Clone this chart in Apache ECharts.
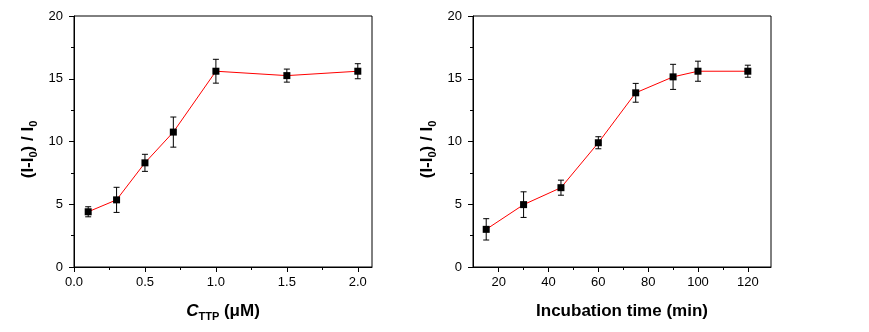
<!DOCTYPE html>
<html><head><meta charset="utf-8">
<script src="https://cdn.jsdelivr.net/npm/echarts@6/dist/echarts.min.js"></script>
<style>html,body{margin:0;padding:0;background:#fff}#c{width:869px;height:332px}</style>
</head><body><div id="c"></div>
<script>
// Left panel: concentration of TTP (µM)
const concX = [0.1, 0.3, 0.5, 0.7, 1.0, 1.5, 2.0];
const concY = [4.4, 5.35, 8.3, 10.75, 15.6, 15.25, 15.6];
const concErr = [0.4, 1.0, 0.68, 1.2, 0.95, 0.52, 0.6];
const concTicks = [0, 0.5, 1.0, 1.5, 2.0];
const concMinorTicks = [0.25, 0.75, 1.25, 1.75];
// Right panel: incubation time (min)
const timeX = [15, 30, 45, 60, 75, 90, 100, 120];
const timeY = [3.0, 4.97, 6.32, 9.9, 13.88, 15.15, 15.6, 15.6];
const timeErr = [0.85, 1.02, 0.6, 0.48, 0.75, 1.0, 0.8, 0.48];
const timeTicks = [20, 40, 60, 80, 100, 120];
const timeMinorTicks = [30, 50, 70, 90, 110];
const yTicksMin = 0, yTicksMax = 20, yTickStep = 5;

const FONT = '"Liberation Sans", Arial, sans-serif';
const chart = echarts.init(document.getElementById('c'), null, {renderer: 'canvas'});

const titleRich = {
  m: {fontSize: 17, fontWeight: 'bold', fontFamily: FONT, color: '#000', lineHeight: 22},
  it: {fontSize: 17, fontWeight: 'bold', fontStyle: 'italic', fontFamily: FONT, color: '#000', lineHeight: 22},
  s: {fontSize: 11, fontWeight: 'bold', fontFamily: FONT, color: '#000', lineHeight: 11, verticalAlign: 'bottom'}
};

function yAxisDef(gi) {
  return {
    type: 'value', gridIndex: gi, min: yTicksMin, max: yTicksMax, interval: yTickStep,
    name: '{m|(I-I}{s|0}{m|) / I}{s|0}', nameLocation: 'middle', nameGap: 35,
    nameTextStyle: {rich: titleRich, padding: [0, 16, 0, 0]},
    axisLine: {show: true, lineStyle: {color: '#000', width: 1}},
    axisTick: {show: true, inside: false, length: 5, lineStyle: {color: '#000', width: 1}},
    minorTick: {show: true, splitNumber: 2, length: 3, lineStyle: {color: '#000', width: 1}},
    axisLabel: {color: '#000', fontSize: 13, fontFamily: FONT, margin: 11},
    splitLine: {show: false}
  };
}

function xMain(gi, min, max, ticks, fmt, name, gap) {
  return {
    type: 'value', gridIndex: gi, min: min, max: max, position: 'bottom',
    name: name, nameLocation: 'middle', nameGap: gap,
    nameTextStyle: {rich: titleRich},
    axisLine: {show: true, onZero: false, lineStyle: {color: '#000', width: 1}},
    axisTick: {show: true, length: 5, customValues: ticks, lineStyle: {color: '#000', width: 1}},
    axisLabel: {color: '#000', fontSize: 13, fontFamily: FONT, margin: 9, customValues: ticks, formatter: fmt},
    splitLine: {show: false}
  };
}
function xMinor(gi, min, max, ticks) {
  return {
    type: 'value', gridIndex: gi, min: min, max: max, position: 'bottom',
    axisLine: {show: false, onZero: false},
    axisTick: {show: true, length: 3, customValues: ticks, lineStyle: {color: '#000', width: 1}},
    axisLabel: {show: false},
    splitLine: {show: false}
  };
}

function errSeries(xi, yi, xs, ys, es) {
  return {
    type: 'custom', xAxisIndex: xi, yAxisIndex: yi, z: 3,
    data: xs.map((x, i) => [x, ys[i] - es[i], ys[i] + es[i]]),
    renderItem: function (params, api) {
      const lo = api.coord([api.value(0), api.value(1)]);
      const hi = api.coord([api.value(0), api.value(2)]);
      const hw = 3;
      const st = {stroke: '#000', lineWidth: 1};
      return {type: 'group', children: [
        {type: 'line', shape: {x1: lo[0], y1: lo[1], x2: hi[0], y2: hi[1]}, style: st},
        {type: 'line', shape: {x1: lo[0] - hw, y1: lo[1], x2: lo[0] + hw, y2: lo[1]}, style: st},
        {type: 'line', shape: {x1: hi[0] - hw, y1: hi[1], x2: hi[0] + hw, y2: hi[1]}, style: st}
      ]};
    }
  };
}
function lineSeries(xi, yi, xs, ys) {
  return {
    type: 'line', xAxisIndex: xi, yAxisIndex: yi, z: 4,
    data: xs.map((x, i) => [x, ys[i]]),
    symbol: 'rect', symbolSize: 7,
    itemStyle: {color: '#000'},
    lineStyle: {color: '#ff0000', width: 1},
    animation: false
  };
}

const option = {
  animation: false,
  backgroundColor: '#fff',
  grid: [
    {left: 74, top: 16, width: 298, height: 251, show: true, borderColor: '#000', borderWidth: 1, containLabel: false},
    {left: 473, top: 16, width: 298, height: 251, show: true, borderColor: '#000', borderWidth: 1, containLabel: false}
  ],
  xAxis: [
    xMain(0, 0, 2.1, concTicks, v => v.toFixed(1), '{it|C}{s|TTP}{m| (μM)}', 33),
    xMinor(0, 0, 2.1, concMinorTicks),
    xMain(1, 9.7, 129.3, timeTicks, v => String(v), '{m|Incubation time (min)}', 33),
    xMinor(1, 9.7, 129.3, timeMinorTicks)
  ],
  yAxis: [yAxisDef(0), yAxisDef(1)],
  series: [
    errSeries(0, 0, concX, concY, concErr),
    lineSeries(0, 0, concX, concY),
    errSeries(2, 1, timeX, timeY, timeErr),
    lineSeries(2, 1, timeX, timeY)
  ]
};
chart.setOption(option);
</script>
</body></html>
